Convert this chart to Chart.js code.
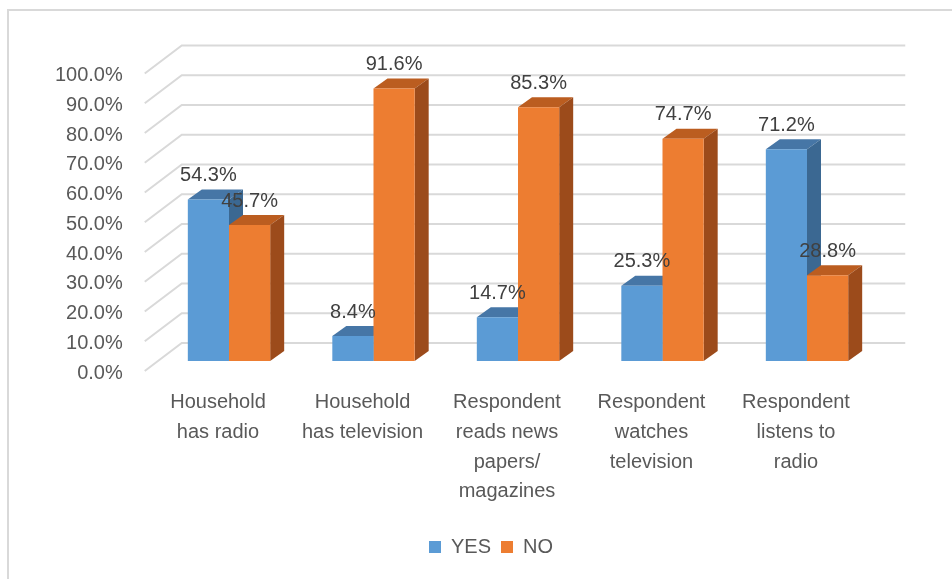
<!DOCTYPE html>
<html>
<head>
<meta charset="utf-8">
<script src="https://cdn.jsdelivr.net/npm/chart.js"></script>
<style>
  html, body { margin: 0; padding: 0; background: #fff; }
  #frame { position: absolute; left: 7px; top: 9px; width: 960px; height: 600px;
           border-top: 2px solid #d9d9d9; border-left: 2px solid #d9d9d9; }
  #chart { position: absolute; left: 0; top: 0; }
</style>
</head>
<body>
<div id="frame"></div>
<canvas id="chart" width="952" height="579"></canvas>
<script>
  // data
  const categories = [
    ['Household', 'has radio'],
    ['Household', 'has television'],
    ['Respondent', 'reads news', 'papers/', 'magazines'],
    ['Respondent', 'watches', 'television'],
    ['Respondent', 'listens to', 'radio']
  ];
  const seriesNames = ['YES', 'NO'];
  const yesValues = [54.3, 8.4, 14.7, 25.3, 71.2];
  const noValues = [45.7, 91.6, 85.3, 74.7, 28.8];
  const yMin = 0, yMax = 100, yStep = 10;

  const FONT = 'Liberation Sans, Arial, sans-serif';
  const TEXT = '#595959';
  const front = ['#5b9bd5', '#ed7d31'];
  const topFace = ['#4676a6', '#bb5d20'];
  const sideFace = ['#3b6892', '#9c4b1b'];
  const DX = 14, DY = -10;   // depth of the bars

  // back wall, gridlines and the 3D faces of the bars
  const box3d = {
    id: 'box3d',
    beforeDatasetsDraw(chart) {
      const ctx = chart.ctx;
      const y = chart.scales.y;
      const area = chart.chartArea;
      ctx.save();
      ctx.strokeStyle = '#d9d9d9';
      ctx.lineWidth = 2;
      for (let v = yMin; v <= yMax; v += yStep) {
        const py = y.getPixelForValue(v);
        ctx.beginPath();
        ctx.moveTo(area.left - 12, py + 10);
        ctx.lineTo(area.left + 25, py - 18);
        ctx.lineTo(area.right + 26, py - 18);
        ctx.stroke();
      }
      chart.data.datasets.forEach((ds, di) => {
        chart.getDatasetMeta(di).data.forEach(bar => {
          const x0 = bar.x - bar.width / 2, x1 = bar.x + bar.width / 2;
          const t = bar.y, b = bar.base;
          ctx.fillStyle = topFace[di];
          ctx.beginPath();
          ctx.moveTo(x0, t); ctx.lineTo(x1, t);
          ctx.lineTo(x1 + DX, t + DY); ctx.lineTo(x0 + DX, t + DY);
          ctx.closePath(); ctx.fill();
          ctx.fillStyle = sideFace[di];
          ctx.beginPath();
          ctx.moveTo(x1, t); ctx.lineTo(x1 + DX, t + DY);
          ctx.lineTo(x1 + DX, b + DY); ctx.lineTo(x1, b);
          ctx.closePath(); ctx.fill();
        });
      });
      ctx.restore();
    },
    afterDatasetsDraw(chart) {
      const ctx = chart.ctx;
      ctx.save();
      ctx.font = '20px ' + FONT;
      ctx.fillStyle = '#404040';
      ctx.textAlign = 'center';
      ctx.textBaseline = 'middle';
      chart.data.datasets.forEach((ds, di) => {
        chart.getDatasetMeta(di).data.forEach((bar, i) => {
          ctx.fillText(ds.data[i].toFixed(1) + '%', bar.x, bar.y - 24);
        });
      });
      ctx.restore();
    }
  };

  new Chart(document.getElementById('chart'), {
    type: 'bar',
    data: {
      labels: categories,
      datasets: [
        { label: seriesNames[0], data: yesValues, backgroundColor: front[0] },
        { label: seriesNames[1], data: noValues, backgroundColor: front[1] }
      ]
    },
    options: {
      responsive: false,
      animation: false,
      categoryPercentage: 0.57,
      barPercentage: 1,
      layout: { padding: { left: 40, right: 10, top: 63.5, bottom: 12 } },
      scales: {
        x: {
          grid: { display: false, drawTicks: false },
          border: { display: false },
          ticks: {
            color: TEXT, font: { family: FONT, size: 20, lineHeight: 1.48 },
            maxRotation: 0, autoSkip: false, labelOffset: -11, padding: 27
          },
          afterFit(scale) { scale.height = 166; }
        },
        y: {
          min: yMin, max: yMax,
          grid: { display: false, drawTicks: false },
          border: { display: false },
          ticks: {
            stepSize: yStep, color: TEXT, font: { family: FONT, size: 20 },
            padding: 34, labelOffset: 12,
            callback: v => v.toFixed(1) + '%'
          },
          afterFit(scale) { scale.width = 116.75; }
        },
        // empty right-hand axis: keeps the back wall room and centres the legend
        yRight: {
          type: 'linear', position: 'right', min: yMin, max: yMax,
          grid: { display: false, drawTicks: false },
          border: { display: false },
          ticks: { display: false },
          afterFit(scale) { scale.width = 62.75; }
        }
      },
      plugins: {
        legend: {
          position: 'bottom',
          labels: { color: TEXT, font: { family: FONT, size: 20 }, boxWidth: 12, boxHeight: 12, padding: 10 }
        },
        tooltip: { enabled: false }
      }
    },
    plugins: [box3d]
  });
</script>
</body>
</html>
